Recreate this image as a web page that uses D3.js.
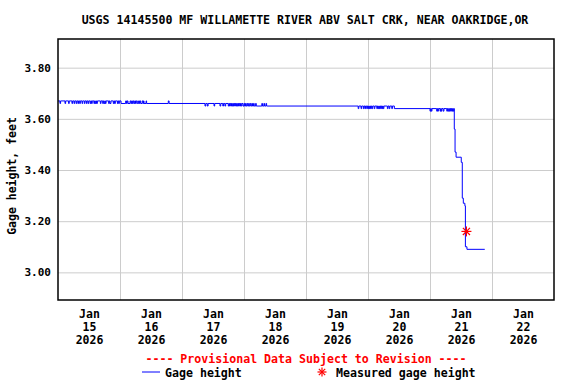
<!DOCTYPE html>
<html>
<head>
<meta charset="utf-8">
<title>USGS 14145500 gage height</title>
<script src="https://d3js.org/d3.v7.min.js"></script>
<style>
  body { margin: 0; background: #fff; }
  text { font-family: "DejaVu Sans Mono", monospace; font-weight: bold; }
</style>
</head>
<body>
<div id="chart"></div>
<script>
// hours after 2026-01-15 00:00, and the gage height (ft) that starts at that hour
const gageHours = [
  0, 0.75, 1.0, 2.7, 2.95, 4.1, 4.35, 5.4, 5.65, 6.2, 6.45, 7.0, 7.25, 7.7, 7.95,
  8.4, 8.65, 9.3, 9.55, 10.2, 10.45, 11.0, 11.25, 11.7, 11.95,
  12.5, 12.75, 13.0, 13.25, 13.9, 14.15, 14.4, 14.65, 14.9, 15.25, 16.4, 16.65,
  17.3, 17.55, 17.8, 18.1, 18.35, 18.6, 19.6, 19.85, 20.1, 20.5,
  21.4, 21.65, 21.9, 22.2, 23.0, 23.25, 23.5, 23.75, 24.4,
  26.2, 26.5, 26.8, 27.1, 27.9, 28.2, 28.5, 28.8,
  29.1, 29.4, 29.7, 30.0, 30.3, 30.7, 31.2, 31.5, 31.7, 32.0,
  32.6, 32.9, 33.1, 33.3, 34.1, 34.3, 42.7, 43.0,
  56.9, 57.2, 57.8, 58.1, 60.4, 60.65, 62.7, 63.0, 63.8, 64.05, 64.6, 64.9,
  65.9, 66.15, 66.4, 66.65, 66.9, 67.15, 67.4, 67.65, 67.9, 68.15, 68.4, 68.65,
  68.9, 69.15, 69.4, 69.65, 69.9, 70.15, 70.4, 70.65, 70.9, 71.15, 71.6,
  72.0, 72.25, 72.6, 72.85, 73.2, 73.45, 73.8, 74.05, 74.4, 74.65, 75.0, 75.3,
  75.7, 75.95, 76.5, 76.75, 78.9, 79.15, 79.7, 79.95, 80.5, 80.75,
  116.2, 116.45, 117.3, 117.55, 118.2, 118.45, 118.8, 119.05,
  119.5, 119.75, 120.0, 120.25, 120.5, 120.75, 121.0, 121.25, 121.5, 121.8,
  122.4, 122.65, 123.4, 123.65, 123.9, 124.15, 124.4, 124.65, 124.9, 125.15,
  125.4, 125.65, 125.9, 126.15, 127.5, 127.75, 128.2, 128.45, 129.2, 129.45, 130.2,
  144.0, 144.25, 144.5, 144.75, 146.6, 146.85, 147.0, 147.25,
  147.9, 148.15, 148.3, 148.55, 149.1, 149.4,
  150.5, 150.75, 151.0, 151.25, 151.5, 151.75, 152.0, 152.25, 152.5, 152.75, 153.0, 153.25,
  153.4, 153.7, 154.1, 156.1, 156.5, 156.9, 157.5, 157.7, 158.3, 165.2
];
const gageFeet = [
  3.67, 3.66, 3.67, 3.66, 3.67, 3.66, 3.67, 3.66, 3.67, 3.66, 3.67, 3.66, 3.67, 3.66, 3.67,
  3.66, 3.67, 3.66, 3.67, 3.66, 3.67, 3.66, 3.67, 3.66, 3.67,
  3.66, 3.67, 3.66, 3.67, 3.66, 3.67, 3.66, 3.67, 3.66, 3.67, 3.66, 3.67,
  3.66, 3.67, 3.66, 3.67, 3.66, 3.67, 3.66, 3.67, 3.66, 3.67,
  3.66, 3.67, 3.66, 3.67, 3.66, 3.67, 3.66, 3.67, 3.66,
  3.67, 3.66, 3.67, 3.66, 3.67, 3.66, 3.67, 3.66,
  3.67, 3.66, 3.67, 3.66, 3.67, 3.66, 3.67, 3.66, 3.67, 3.66,
  3.67, 3.66, 3.67, 3.66, 3.67, 3.66, 3.67, 3.66,
  3.65, 3.66, 3.65, 3.66, 3.65, 3.66, 3.65, 3.66, 3.65, 3.66, 3.65, 3.66,
  3.65, 3.66, 3.65, 3.66, 3.65, 3.66, 3.65, 3.66, 3.65, 3.66, 3.65, 3.66,
  3.65, 3.66, 3.65, 3.66, 3.65, 3.66, 3.65, 3.66, 3.65, 3.66, 3.65,
  3.66, 3.65, 3.66, 3.65, 3.66, 3.65, 3.66, 3.65, 3.66, 3.65, 3.66, 3.65,
  3.66, 3.65, 3.66, 3.65, 3.66, 3.65, 3.66, 3.65, 3.66, 3.65,
  3.64, 3.65, 3.64, 3.65, 3.64, 3.65, 3.64, 3.65,
  3.64, 3.65, 3.64, 3.65, 3.64, 3.65, 3.64, 3.65, 3.64, 3.65,
  3.64, 3.65, 3.64, 3.65, 3.64, 3.65, 3.64, 3.65, 3.64, 3.65,
  3.64, 3.65, 3.64, 3.65, 3.64, 3.65, 3.64, 3.65, 3.64, 3.65, 3.64,
  3.63, 3.64, 3.63, 3.64, 3.63, 3.64, 3.63, 3.64,
  3.63, 3.64, 3.63, 3.64, 3.63, 3.64,
  3.63, 3.64, 3.63, 3.64, 3.63, 3.64, 3.63, 3.64, 3.63, 3.64, 3.63, 3.64,
  3.56, 3.47, 3.45, 3.43, 3.29, 3.27, 3.26, 3.10, 3.09, 3.09
];

// field measurement
const measuredHours = [158.1];
const measuredFeet = [3.16];

const dayLabels = ["15", "16", "17", "18", "19", "20", "21", "22"];
const yTicks = [3.0, 3.2, 3.4, 3.6, 3.8];

const titleText = "USGS 14145500 MF WILLAMETTE RIVER ABV SALT CRK, NEAR OAKRIDGE,OR";

const start = Date.UTC(2026, 0, 15);
const hourToDate = h => new Date(start + h * 3600 * 1000);

let margin = {top: 39, right: 22, bottom: 84, left: 58};
let w = 576 - margin.left - margin.right;
let h = 384 - margin.top - margin.bottom;

let root = d3.select("#chart")
  .append("svg")
    .attr("width", 576)
    .attr("height", 384);

let svg = root.append("g")
    .attr("transform", "translate(" + margin.left + "," + margin.top + ")");

let xScale = d3.scaleUtc()
  .domain([hourToDate(0), hourToDate(192)])
  .range([0, w]);

let yScale = d3.scaleLinear()
  .domain([2.892, 3.912])
  .range([h, 0]);

// grid lines
let midnights = d3.range(1, 8).map(d => hourToDate(d * 24));
svg.append("g")
  .attr("class", "grid")
  .attr("transform", "translate(0," + h + ")")
  .call(d3.axisBottom(xScale).tickValues(midnights).tickSize(-h).tickFormat(""));

svg.append("g")
  .attr("class", "grid")
  .call(d3.axisLeft(yScale).tickValues(yTicks).tickSize(-w).tickFormat(""));

svg.selectAll(".grid .domain").remove();
svg.selectAll(".grid line")
  .attr("stroke", "#cccccc")
  .attr("stroke-width", 1);

// y labels
let yAxis = svg.append("g")
  .call(d3.axisLeft(yScale).tickValues(yTicks).tickSize(0).tickPadding(7).tickFormat(d3.format(".2f")));
yAxis.select(".domain").remove();
yAxis.selectAll("text")
  .attr("font-size", "11px")
  .attr("font-family", "DejaVu Sans Mono")
  .attr("font-weight", "bold")
  .attr("fill", "#000");

// x labels, three lines each, at noon
let noons = dayLabels.map((d, i) => hourToDate(i * 24 + 12));
let xAxis = svg.append("g")
  .attr("transform", "translate(0," + h + ")")
  .call(d3.axisBottom(xScale).tickValues(noons).tickSize(0).tickFormat(""));
xAxis.select(".domain").remove();
xAxis.selectAll(".tick text").remove();
xAxis.selectAll(".tick").each(function(d, i) {
  let t = d3.select(this).append("text")
    .attr("text-anchor", "middle")
    .attr("font-size", "11.5px")
    .attr("fill", "#000");
  ["Jan", dayLabels[i], "2026"].forEach((s, k) => {
    t.append("tspan").attr("x", 0).attr("y", 18 + k * 13).text(s);
  });
});

// the gage height series
let series = gageHours.map((d, i) => ({t: hourToDate(d), v: gageFeet[i]}));
let line = d3.line()
  .x(d => xScale(d.t))
  .y(d => yScale(d.v))
  .curve(d3.curveStepAfter);

svg.append("path")
  .datum(series)
  .attr("fill", "none")
  .attr("stroke", "#0000ff")
  .attr("stroke-width", 1)
  .attr("d", line);

// asterisk marker
function star(g, cx, cy, r) {
  [0, 45, 90, 135].forEach(a => {
    let rad = a * Math.PI / 180;
    g.append("line")
      .attr("x1", cx - r * Math.cos(rad)).attr("y1", cy - r * Math.sin(rad))
      .attr("x2", cx + r * Math.cos(rad)).attr("y2", cy + r * Math.sin(rad))
      .attr("stroke", "#ff0000")
      .attr("stroke-width", 1.2);
  });
}
measuredHours.forEach((d, i) => {
  star(svg, xScale(hourToDate(d)), yScale(measuredFeet[i]), 5);
});

// frame
svg.append("rect")
  .attr("width", w)
  .attr("height", h)
  .attr("fill", "none")
  .attr("stroke", "#000")
  .attr("stroke-width", 1.5);

// title
root.append("text")
  .attr("x", 305)
  .attr("y", 24)
  .attr("text-anchor", "middle")
  .attr("font-size", "11.6px")
  .attr("fill", "#000")
  .text(titleText);

// y axis title
root.append("text")
  .attr("transform", "translate(16," + 176 + ") rotate(-90)")
  .attr("text-anchor", "middle")
  .attr("font-size", "11.5px")
  .attr("fill", "#000")
  .text("Gage height, feet");

// provisional note
root.append("text")
  .attr("x", 306)
  .attr("y", 363)
  .attr("text-anchor", "middle")
  .attr("font-size", "11.6px")
  .attr("fill", "#ff0000")
  .text("---- Provisional Data Subject to Revision ----");

// legend
root.append("line")
  .attr("x1", 142).attr("x2", 160)
  .attr("y1", 372).attr("y2", 372)
  .attr("stroke", "#0000ff")
  .attr("stroke-width", 1);
root.append("text")
  .attr("x", 165).attr("y", 377)
  .attr("font-size", "11.6px")
  .attr("fill", "#000")
  .text("Gage height");
star(root, 322, 372, 4.5);
root.append("text")
  .attr("x", 336).attr("y", 377)
  .attr("font-size", "11.6px")
  .attr("fill", "#000")
  .text("Measured gage height");
</script>
</body>
</html>
